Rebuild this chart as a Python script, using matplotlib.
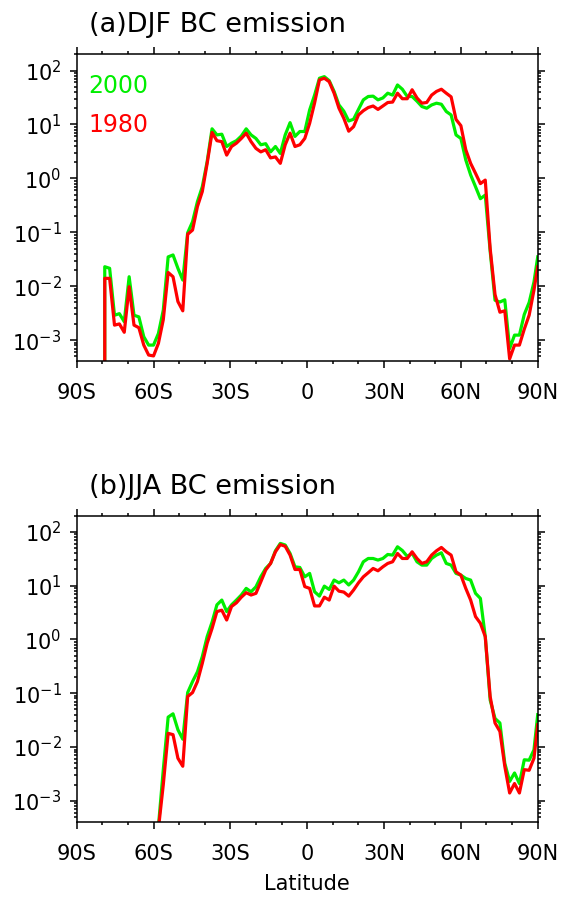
import numpy as np
import matplotlib
matplotlib.use('Agg')
from matplotlib import pyplot as plt
from matplotlib.ticker import FixedLocator, MultipleLocator

# T62 gaussian latitudes (north half) plus the poles
nh_lat = [0.95, 2.88, 4.78, 6.69, 8.59, 10.50, 12.40, 14.30, 16.21, 18.11,
          20.02, 21.92, 23.82, 25.73, 27.63, 29.54, 31.44, 33.34, 35.25, 37.15,
          39.06, 40.96, 42.86, 44.77, 46.67, 48.58, 50.48, 52.39, 54.29, 56.19,
          58.10, 60.00, 61.91, 63.81, 65.72, 67.62, 69.52, 71.43, 73.33, 75.24,
          77.14, 79.04, 80.95, 82.85, 84.75, 86.65, 88.54]
lat = [-90.0] + [-v for v in nh_lat[::-1]] + nh_lat + [90.0]

djf_2000 = [0, 0, 0, 0, 0, 0, 0.023, 0.0215,
            0.0029, 0.0031, 0.0022, 0.015, 0.0029, 0.0027, 0.00116, 0.00081,
            0.00081, 0.00133, 0.0036, 0.035, 0.038, 0.0215, 0.013, 0.098,
            0.157, 0.37, 0.70, 2.05, 8.3, 6.4, 6.6, 3.9,
            4.5, 5.0, 6.1, 8.3, 6.4, 5.5, 4.2, 4.4,
            3.1, 3.9, 2.9, 6.4, 10.8, 6.0, 7.4, 7.4,
            18.6, 35, 72, 77, 65, 41, 23, 17.6,
            11.6, 12.5, 19, 28.6, 33, 33.5, 28.6, 31,
            38, 35, 54, 45, 33, 33, 27, 21.5,
            20, 23, 24.8, 23.7, 17.4, 15, 6.4, 5.5,
            2.2, 1.16, 0.70, 0.42, 0.49, 0.045, 0.0055, 0.0051,
            0.0056, 0.0007, 0.00124, 0.00124, 0.0030, 0.0050, 0.012, 0.035]

djf_1980 = [0, 0, 0, 0, 0, 0, 0.014, 0.014,
            0.0019, 0.0020, 0.0014, 0.0098, 0.0019, 0.0017, 0.00081, 0.00053,
            0.00051, 0.00087, 0.0024, 0.018, 0.015, 0.0052, 0.0035, 0.092,
            0.11, 0.30, 0.57, 1.9, 7.1, 5.0, 4.8, 2.7,
            3.9, 4.5, 5.5, 6.9, 4.8, 3.6, 3.1, 3.4,
            2.4, 2.5, 1.9, 4.2, 6.9, 3.9, 4.2, 5.5,
            10.5, 25, 67, 72, 62, 38, 20, 13,
            7.5, 9.1, 15, 18, 20.6, 22, 19, 22,
            25.5, 26, 38, 30, 30, 44, 31, 24.8,
            25.6, 35, 41, 45, 38, 32.5, 12.4, 9.5,
            3.4, 1.9, 1.24, 0.80, 0.93, 0.05, 0.007, 0.0033,
            0.0035, 0.00045, 0.00081, 0.00081, 0.0016, 0.0029, 0.0085, 0.023]

jja_2000 = [0, 0, 0, 0, 0, 0, 0, 0,
            0, 0, 0, 0, 0, 0, 0, 0,
            0, 0.00033, 0.0038, 0.036, 0.0415, 0.021, 0.014, 0.103,
            0.165, 0.25, 0.48, 1.13, 2.1, 4.4, 5.4, 3.3,
            4.4, 5.4, 6.7, 8.9, 7.7, 9.5, 14.7, 20.9,
            25.9, 44.5, 61, 57, 39.7, 22.4, 21.8, 14.6,
            16.9, 7.7, 6.4, 9.8, 8.5, 12.7, 11.3, 12.7,
            10.3, 12.7, 18.1, 27.8, 32, 32, 29.9, 32,
            38, 37, 52.8, 45, 35, 40, 27.8, 24.1,
            24.1, 32, 37, 40.8, 25.9, 24.1, 16.9, 15.7,
            13.6, 12.7, 7.2, 5.8, 1.13, 0.075, 0.034, 0.028,
            0.005, 0.0023, 0.0033, 0.0021, 0.0058, 0.0057, 0.0089, 0.040]

jja_1980 = [0, 0, 0, 0, 0, 0, 0, 0,
            0, 0, 0, 0, 0, 0, 0, 0,
            0, 0.0003, 0.002, 0.018, 0.017, 0.0062, 0.0044, 0.087,
            0.103, 0.165, 0.36, 0.85, 1.6, 3.3, 3.5, 2.3,
            4.1, 4.8, 6.1, 7.4, 6.7, 7.2, 11.8, 19.5,
            25.9, 42.6, 58, 54, 37, 20, 20, 9.6,
            8.9, 4.2, 4.2, 6.1, 5.4, 9.8, 7.9, 7.6,
            6.4, 8.3, 11.3, 14.6, 17.4, 20.9, 18.9, 22.4,
            25.9, 27.8, 39.7, 32, 32, 42.6, 32, 25.9,
            27.8, 37, 44.5, 51.3, 42.6, 37, 18.1, 15.7,
            8.9, 5.4, 2.66, 2.0, 1.13, 0.087, 0.028, 0.0195,
            0.0044, 0.0014, 0.0021, 0.0014, 0.0038, 0.0037, 0.0062, 0.026]

xticks = [-90, -60, -30, 0, 30, 60, 90]
xlabels = ['90S', '60S', '30S', '0', '30N', '60N', '90N']
yticks = [1e-3, 1e-2, 1e-1, 1e0, 1e1, 1e2]
ylabels = [r'$10^{-3}$', r'$10^{-2}$', r'$10^{-1}$', r'$10^{0}$', r'$10^{1}$', r'$10^{2}$']
titles = ['(a)DJF BC emission', '(b)JJA BC emission']

green = '#00ee00'
red = '#ff0000'

plt.rcParams['font.family'] = 'DejaVu Sans'
fig = plt.figure(figsize=(5.61, 8.99), dpi=100)
ax1 = fig.add_axes([0.1367, 0.5984, 0.8218, 0.3412])
ax2 = fig.add_axes([0.1367, 0.0860, 0.8218, 0.3404])

for ax, g, r, t in [(ax1, djf_2000, djf_1980, titles[0]), (ax2, jja_2000, jja_1980, titles[1])]:
    ax.set_yscale('log')
    ax.plot(lat, g, color=green, lw=2.3)
    ax.plot(lat, r, color=red, lw=2.3)
    ax.set_xlim(-90, 90)
    ax.set_ylim(4.1e-4, 200)
    ax.xaxis.set_major_locator(FixedLocator(xticks))
    ax.set_xticklabels(xlabels)
    ax.xaxis.set_minor_locator(MultipleLocator(10))
    ax.yaxis.set_major_locator(FixedLocator(yticks))
    ax.set_yticklabels(ylabels)
    ax.tick_params(which='both', direction='out', top=True, right=True, width=1.1, labelsize=15)
    ax.tick_params(which='major', length=5)
    ax.tick_params(which='minor', length=2.5)
    ax.tick_params(axis='x', which='major', pad=11)
    ax.tick_params(axis='y', which='major', pad=6)
    for s in ax.spines.values():
        s.set_linewidth(1.1)
    ax.text(0.026, 1.072, t, transform=ax.transAxes, fontsize=19.5, va='baseline', ha='left')

ax1.text(0.025, 0.873, '2000', color=green, fontsize=17, transform=ax1.transAxes, va='baseline')
ax1.text(0.025, 0.748, '1980', color=red, fontsize=17, transform=ax1.transAxes, va='baseline')
ax2.set_xlabel('Latitude', fontsize=15, labelpad=7)

fig.savefig('out.png', dpi=100)
